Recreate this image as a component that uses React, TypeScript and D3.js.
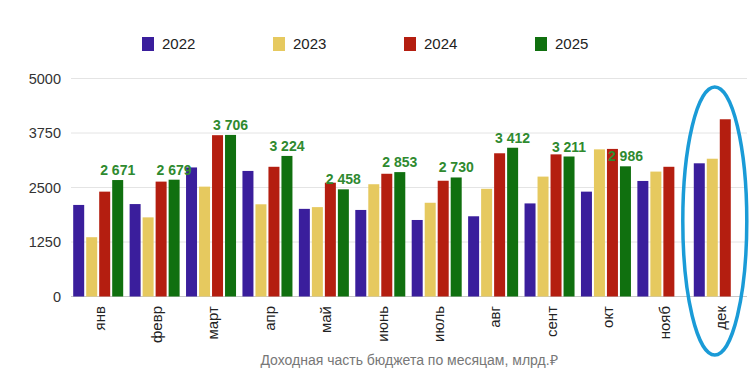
import React, { useEffect, useRef } from "react";
import * as d3 from "d3";

const months = ["янв", "февр", "март", "апр", "май", "июнь", "июль", "авг", "сент", "окт", "нояб", "дек"];
const years = ["2022", "2023", "2024", "2025"];
const v2022 = [2100, 2120, 2960, 2880, 2010, 1985, 1755, 1840, 2135, 2405, 2650, 3055];
const v2023 = [1360, 1815, 2520, 2115, 2050, 2575, 2150, 2470, 2750, 3375, 2865, 3160];
const v2024 = [2405, 2635, 3700, 2975, 2610, 2815, 2655, 3285, 3260, 3385, 2975, 4065];
const v2025: (number | null)[] = [2671, 2679, 3706, 3224, 2458, 2853, 2730, 3412, 3211, 2986, null, null];
const yTicks = [0, 1250, 2500, 3750, 5000];
const colors = ["#3a1e9c", "#e6c95f", "#b41e10", "#10700f"];
const titleText = "Доходная часть бюджета по месяцам, млрд.₽";

const W = 754;
const H = 391;
const FONT = "'Liberation Sans', Arial, Helvetica, sans-serif";

export default function App() {
  const ref = useRef<SVGSVGElement>(null);
  useEffect(() => {
    const svg = d3.select(ref.current);
    svg.selectAll("*").remove();
    const series = [v2022, v2023, v2024, v2025];

    const x0 = d3.scaleBand<string>().domain(months).range([70, 747]).paddingInner(0).paddingOuter(0);
    const x1 = d3.scaleBand<string>().domain(years).range([3.2, 53.2]).paddingInner(2 / 13).paddingOuter(0);
    const y = d3.scaleLinear().domain([0, 5000]).range([296.5, 78.5]);

    svg.append("rect").attr("width", W).attr("height", H).attr("fill", "#ffffff");

    // grid
    const g = svg.append("g");
    g.selectAll("line.grid")
      .data(yTicks)
      .enter()
      .append("line")
      .attr("x1", 71)
      .attr("x2", 747)
      .attr("y1", (d) => y(d))
      .attr("y2", (d) => y(d))
      .attr("stroke", (d) => (d === 0 ? "#c8c8c8" : "#e4e4e4"))
      .attr("stroke-width", 1);

    g.selectAll("text.ytick")
      .data(yTicks)
      .enter()
      .append("text")
      .attr("x", 61)
      .attr("y", (d) => y(d))
      .attr("dy", "0.35em")
      .attr("text-anchor", "end")
      .attr("font-family", FONT)
      .attr("font-size", 14.5)
      .attr("fill", "#333")
      .text((d) => String(d));

    // bars
    years.forEach((yr, si) => {
      const data = months.map((m, i) => ({ m, v: series[si][i] })).filter((d) => d.v != null) as { m: string; v: number }[];
      g.selectAll(`rect.s${si}`)
        .data(data)
        .enter()
        .append("rect")
        .attr("x", (d) => (x0(d.m) as number) + (x1(yr) as number))
        .attr("width", x1.bandwidth())
        .attr("y", (d) => y(d.v))
        .attr("height", (d) => y(0) - y(d.v))
        .attr("fill", colors[si]);
    });

    // labels for 2025
    const loc = d3.formatLocale({ decimal: ",", thousands: " ", grouping: [3], currency: ["", ""] });
    const fmt = loc.format(",");
    const lab = months.map((m, i) => ({ m, v: v2025[i] })).filter((d) => d.v != null) as { m: string; v: number }[];
    g.selectAll("text.lab")
      .data(lab)
      .enter()
      .append("text")
      .attr("x", (d) => (x0(d.m) as number) + (x1("2025") as number) + x1.bandwidth() / 2)
      .attr("y", (d) => y(d.v) - 5)
      .attr("text-anchor", "middle")
      .attr("font-family", FONT)
      .attr("font-size", 14)
      .attr("font-weight", "bold")
      .attr("fill", "#2f8a2f")
      .text((d) => fmt(d.v));

    // x labels
    g.selectAll("text.xl")
      .data(months)
      .enter()
      .append("text")
      .attr("transform", (d) => `translate(${(x0(d) as number) + x0.bandwidth() / 2 + 2},306) rotate(-90)`)
      .attr("text-anchor", "end")
      .attr("dy", "0.35em")
      .attr("font-family", FONT)
      .attr("font-size", 15)
      .attr("fill", "#222")
      .text((d) => d);

    // title
    svg.append("text")
      .attr("x", 409)
      .attr("y", 365)
      .attr("text-anchor", "middle")
      .attr("font-family", FONT)
      .attr("font-size", 14)
      .attr("fill", "#777")
      .text(titleText);

    // legend
    const lx = d3.scaleLinear().domain([0, 3]).range([142, 535]);
    const lg = svg.append("g");
    years.forEach((yr, i) => {
      lg.append("rect")
        .attr("x", lx(i))
        .attr("y", 37)
        .attr("width", 12)
        .attr("height", 14)
        .attr("fill", colors[i]);
      lg.append("text")
        .attr("x", lx(i) + 20)
        .attr("y", 44)
        .attr("dy", "0.35em")
        .attr("font-family", FONT)
        .attr("font-size", 15)
        .attr("fill", "#222")
        .text(yr);
    });

    // annotation ellipse around December
    const decX = (x0("дек") as number) + x0.bandwidth() / 2;
    svg.append("ellipse")
      .attr("cx", decX - 4)
      .attr("cy", 221)
      .attr("rx", 32)
      .attr("ry", 134)
      .attr("fill", "none")
      .attr("stroke", "#1a9bd7")
      .attr("stroke-width", 3.5);
  }, []);

  return (
    <svg
      ref={ref}
      width={W}
      height={H}
      style={{ position: "absolute", left: 0, top: 0, display: "block" }}
    />
  );
}
